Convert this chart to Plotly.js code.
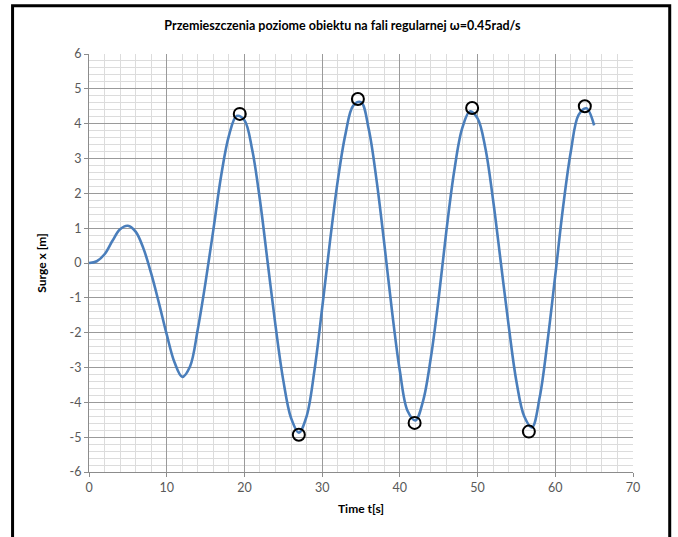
<!DOCTYPE html>
<html>
<head>
<meta charset="utf-8">
<script src="https://cdn.plot.ly/plotly-3.0.1.min.js"></script>
<style>html,body{margin:0;padding:0;background:#fff;}#chart{width:678px;height:537px;}</style>
</head>
<body>
<div id="chart"></div>
<script>
// Surge response time series (1 s steps)
const timeS = [0, 1, 2, 3, 4, 5, 6, 7, 8, 9, 10, 11, 12, 13, 14, 15, 16, 17, 18, 19,
  20, 21, 22, 23, 24, 25, 26, 27, 28, 29, 30, 31, 32, 33, 34,
  35, 36, 37, 38, 39, 40, 41, 42, 43, 44, 45, 46, 47, 48, 49,
  50, 51, 52, 53, 54, 55, 56, 57, 58, 59, 60, 61, 62, 63, 64, 65];
const surgeM = [0, 0.05, 0.25, 0.63, 0.97, 1.07, 0.9, 0.42, -0.3, -1.15, -2.05, -2.85, -3.27, -2.97, -1.9, -0.55, 0.95, 2.5, 3.65, 4.22,
  4.1, 3.25, 1.8, 0.0, -1.8, -3.37, -4.45, -4.87, -4.4, -3.1, -1.3, 0.6, 2.35, 3.7, 4.52,
  4.62, 3.84, 2.38, 0.55, -1.4, -3.1, -4.25, -4.52, -3.95, -2.7, -1.0, 0.95, 2.65, 3.85, 4.35,
  4.15, 3.3, 1.8, 0.0, -1.8, -3.4, -4.4, -4.72, -3.85, -2.25, -0.35, 1.6, 3.2, 4.25, 4.44, 3.95];
// Marked extremes
const peakT = [19.4, 27.0, 34.6, 41.9, 49.3, 56.6, 63.8];
const peakX = [4.28, -4.93, 4.71, -4.59, 4.45, -4.84, 4.5];
// Axis ticks
const xTicks = [0, 10, 20, 30, 40, 50, 60, 70];
const yTicks = [-6, -5, -4, -3, -2, -1, 0, 1, 2, 3, 4, 5, 6];

const fontFam = 'Lato, "Open Sans", "Liberation Sans", sans-serif';

const traces = [
  {
    x: timeS, y: surgeM, type: 'scatter', mode: 'lines',
    line: {color: '#4a7ebb', width: 2.6, shape: 'spline', smoothing: 1},
    hoverinfo: 'skip', showlegend: false
  },
  {
    x: peakT, y: peakX, type: 'scatter', mode: 'markers',
    marker: {symbol: 'circle-open', size: 12, color: '#000', line: {width: 2, color: '#000'}},
    showlegend: false
  }
];

const layout = {
  width: 678, height: 537,
  margin: {l: 89, r: 45, t: 54, b: 65},
  paper_bgcolor: '#fff', plot_bgcolor: '#fff',
  font: {family: fontFam, size: 12, color: '#404040'},
  title: {
    text: 'Przemieszczenia poziome obiektu na fali regularnej ω=0.45rad/s',
    font: {family: fontFam, size: 12.5, color: '#000', weight: 'bold'},
    x: 0.505, xanchor: 'center', y: 0.952, yanchor: 'middle'
  },
  xaxis: {
    range: [0, 70], tickvals: xTicks, ticktext: xTicks.map(String),
    showgrid: true, gridcolor: '#9a9a9a', gridwidth: 1,
    minor: {dtick: 2, showgrid: true, gridcolor: '#dcdcdc', gridwidth: 1, ticks: ''},
    showline: true, linecolor: '#8c8c8c', linewidth: 1,
    ticks: 'outside', ticklen: 4, tickcolor: '#8c8c8c',
    zeroline: false,
    tickfont: {family: fontFam, size: 12.5, color: '#595959'},
    title: {text: 'Time t[s]', font: {family: fontFam, size: 12, color: '#000', weight: 'bold'}, standoff: 10}
  },
  yaxis: {
    range: [-6, 6], tickvals: yTicks, ticktext: yTicks.map(String),
    showgrid: true, gridcolor: '#9a9a9a', gridwidth: 1,
    minor: {dtick: 0.2, showgrid: true, gridcolor: '#dcdcdc', gridwidth: 1, ticks: ''},
    showline: true, linecolor: '#8c8c8c', linewidth: 1,
    ticks: 'outside', ticklen: 4, tickcolor: '#8c8c8c',
    zeroline: false,
    tickfont: {family: fontFam, size: 12.5, color: '#595959'},
    title: {text: 'Surge x [m]', font: {family: fontFam, size: 12, color: '#000', weight: 'bold'}, standoff: 20}
  },
  shapes: [
    {type: 'rect', xref: 'paper', yref: 'paper',
     x0: -0.1405, x1: 1.0675, y0: -0.17, y1: 1.1155,
     line: {color: '#000', width: 3}, fillcolor: 'rgba(0,0,0,0)', layer: 'above'}
  ]
};

Plotly.newPlot('chart', traces, layout, {staticPlot: true, displayModeBar: false});
</script>
</body>
</html>
